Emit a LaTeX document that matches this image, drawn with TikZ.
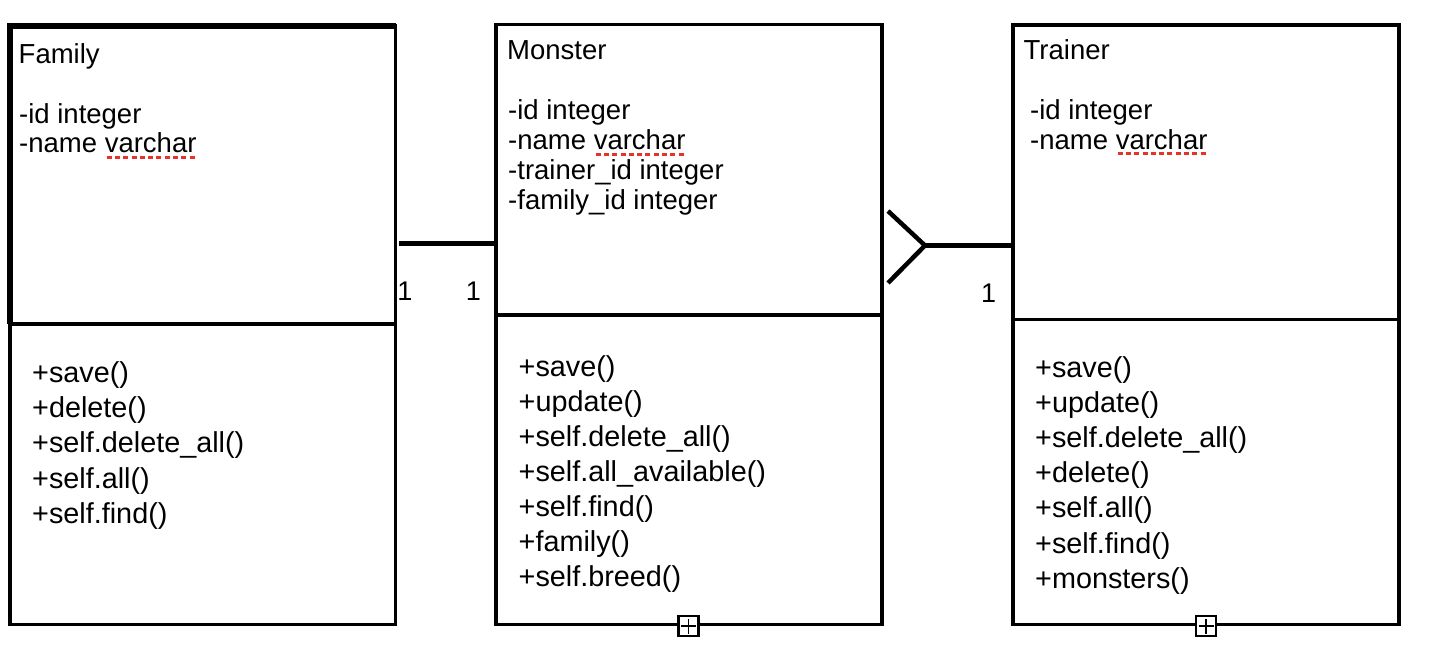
\documentclass[tikz,border=0pt]{standalone}
\usepackage{fontspec}
\setmainfont{Liberation Sans}
\definecolor{sqred}{RGB}{232,50,40}
\newcommand\sqword[1]{\setbox0\hbox{#1}\rlap{\raisebox{-6.3pt}{\color{sqred}\hbox to \wd0{\xleaders\hbox to 8pt{\hss\rule{5pt}{3pt}\hss}\hfill}}}#1}
\tikzset{
  boxline/.style={draw, line width=3.4pt, inner sep=0pt, outer sep=0pt},
  attr/.style={anchor=base west, inner sep=0pt, font=\fontsize{27.5}{30}\selectfont},
  meth/.style={anchor=base west, inner sep=0pt, font=\fontsize{28.8}{30}\selectfont},
  mult/.style={anchor=base, inner sep=0pt, font=\fontsize{27}{30}\selectfont},
  conn/.style={line width=4.2pt},
  crow/.style={line width=4.5pt, line join=bevel},
  plusbox/.style={draw, fill=white, line width=2.4pt, minimum size=20pt, inner sep=0pt},
}
\begin{document}
\begin{tikzpicture}[x=1pt,y=-1pt]
\useasboundingbox (0,0) rectangle (1452,650);
% Family
\node[boxline, minimum width=385.5pt, minimum height=298pt] (famTop) at (202.75,175) {};
\node[boxline, minimum width=385.5pt, minimum height=300.5pt] (famBot) at (202.75,474.25) {};
\draw[line width=5.5pt] (famTop.south west) -- (famTop.north west) -- (famTop.north east);
% Monster
\node[boxline, minimum width=386pt, minimum height=290.5pt] (monTop) at (689,169.75) {};
\node[boxline, minimum width=386pt, minimum height=309.5pt] (monBot) at (689,469.75) {};
% Trainer
\node[boxline, minimum width=386pt, minimum height=294.5pt] (trTop) at (1206,172.25) {};
\node[boxline, minimum width=386pt, minimum height=305pt] (trBot) at (1206,472) {};
% plus boxes
\node[plusbox] (monPlus) at (688.5,626) {};
\draw[line width=1.8pt] (monPlus.center) +(-7.5,0) -- +(7.5,0) (monPlus.center) +(0,-7.5) -- +(0,7.5);
\node[plusbox] (trPlus) at (1206,626) {};
\draw[line width=1.8pt] (trPlus.center) +(-7.5,0) -- +(7.5,0) (trPlus.center) +(0,-7.5) -- +(0,7.5);
% Family texts
\node[attr] (famTitle) at (18.5,64) {Family};
\foreach \t [count=\i from 0] in {-id integer, -name \sqword{varchar}}
  \node[attr, name=fa\i] at (19,{123.3+29.7*\i}) {\t};
\foreach \t [count=\i from 0] in {+save(), +delete(), +self.delete\_all(), +self.all(), +self.find()}
  \node[meth, name=fm\i] at (32,{382.7+35.1*\i}) {\t};
% Monster texts
\node[attr] (monTitle) at (507,60) {Monster};
\foreach \t [count=\i from 0] in {-id integer, -name \sqword{varchar}, -trainer\_id integer, -family\_id integer}
  \node[attr, name=ma\i] at (508,{120+29.7*\i}) {\t};
\foreach \t [count=\i from 0] in {+save(), +update(), +self.delete\_all(), +self.all\_available(), +self.find(), +family(), +self.breed()}
  \node[meth, name=mm\i] at (518.5,{376+35.1*\i}) {\t};
% Trainer texts
\node[attr] (trTitle) at (1023.5,60) {Trainer};
\foreach \t [count=\i from 0] in {-id integer, -name \sqword{varchar}}
  \node[attr, name=ta\i] at (1030,{119.5+29.7*\i}) {\t};
\foreach \t [count=\i from 0] in {+save(), +update(), +self.delete\_all(), +delete(), +self.all(), +self.find(), +monsters()}
  \node[meth, name=tm\i] at (1035,{377.5+35.1*\i}) {\t};
% connectors
\coordinate (fmStart) at (399,243.5);
\draw[conn] (fmStart) -- (fmStart -| monTop.west);
\coordinate (cfTip) at (925,245.5);
\coordinate (cfUp) at (888,211);
\coordinate (cfDown) at (888,283);
\draw[conn] (cfTip) -- (cfTip -| trTop.west);
\draw[crow] (cfUp) -- (cfTip) -- (cfDown);
% multiplicities
\node[mult] (m1) at (405,300) {1};
\node[mult] (m2) at (473.5,300) {1};
\node[mult] (m3) at (988.5,302.5) {1};
\end{tikzpicture}
\end{document}
